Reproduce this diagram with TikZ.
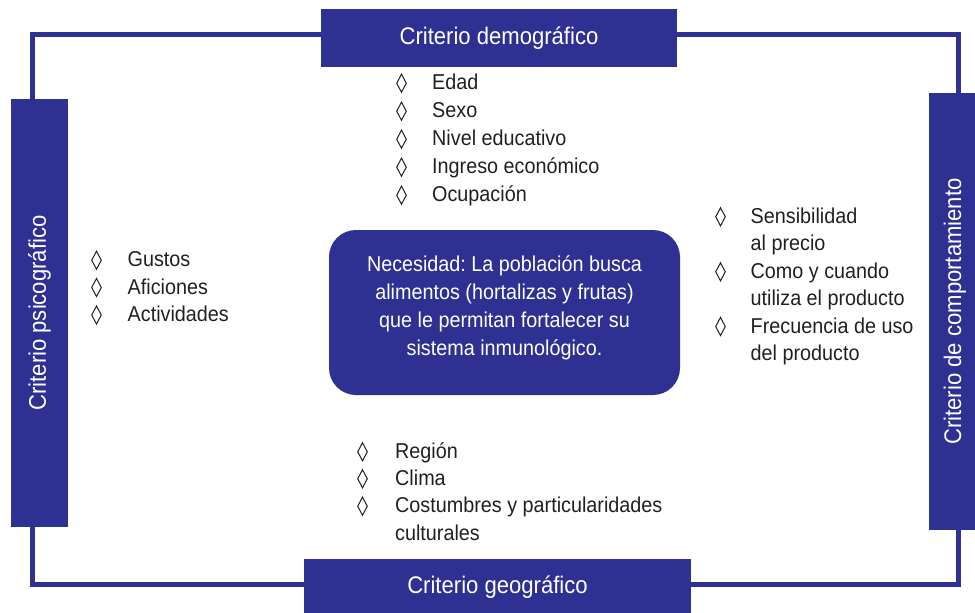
\documentclass[tikz,border=0pt]{standalone}
\usepackage{fontspec}
\usetikzlibrary{shapes.geometric}
\newfontfamily\critf{Liberation Sans}[FakeStretch=0.92]
\definecolor{critblue}{RGB}{46,49,146}
\definecolor{txtgray}{RGB}{35,31,32}
\frenchspacing
\tikzset{
  frame/.style={draw=critblue, line width=5pt},
  crit/.style={fill=critblue, draw=none, text=white, font=\critf\fontsize{24}{28}\selectfont, inner sep=0pt},
  needbox/.style={fill=critblue, draw=none, rounded corners=27pt, text=white, inner sep=0pt},
  needtxt/.style={text=white, font=\critf\fontsize{21.5}{27.6}\selectfont, anchor=base, inner sep=0pt},
  itm/.style={text=txtgray, font=\critf\fontsize{21.5}{27.6}\selectfont, anchor=base west, inner sep=0pt},
  dia/.style={shape=diamond, draw=txtgray, line width=1pt, inner sep=0pt, minimum width=10pt, minimum height=18.5pt}
}
\begin{document}
\begin{tikzpicture}[x=1pt,y=-1pt]
\useasboundingbox (0,0) rectangle (975,613);
% frame
\coordinate (tl) at (32.5,34.5);
\coordinate (br) at (958.5,584.5);
\draw[frame] (tl) rectangle (br);
% criteria boxes
\node[crit, minimum width=356pt, minimum height=58pt] (top) at (499,38) {Criterio demográfico};
\node[crit, minimum width=387pt, minimum height=56pt] (bot) at (497.5,587) {Criterio geográfico};
\node[crit, minimum width=57pt, minimum height=428pt] (left) at (39.5,313) {};
\node[text=white, font=\critf\fontsize{24}{28}\selectfont, rotate=90, inner sep=0pt] (lefttxt) at (left.center) {Criterio psicográfico};
\node[crit, minimum width=52pt, minimum height=437pt] (right) at (955,311.5) {};
\node[text=white, font=\critf\fontsize{24}{28}\selectfont, rotate=90, inner sep=0pt] (righttxt) at (955,311.5) {Criterio de comportamiento};
% central need
\node[needbox, minimum width=351pt, minimum height=165pt] (need) at (504.5,312.5) {};
\node[needtxt] (n1) at (504.5,271.7) {Necesidad: La población busca};
\node[needtxt] (n2) at (504.5,299.5) {alimentos (hortalizas y frutas)};
\node[needtxt] (n3) at (504.5,327.3) {que le permitan fortalecer su};
\node[needtxt] (n4) at (504.5,355) {sistema inmunológico.};
% demographic list
\node[dia] (dd1) at (401.5,83.2) {};
\node[itm] (d1) at (432,89.7) {Edad};
\node[dia] (dd2) at (401.5,111.2) {};
\node[itm] (d2) at (432,117.7) {Sexo};
\node[dia] (dd3) at (401.5,139.2) {};
\node[itm] (d3) at (432,145.7) {Nivel educativo};
\node[dia] (dd4) at (401.5,167.2) {};
\node[itm] (d4) at (432,173.7) {Ingreso económico};
\node[dia] (dd5) at (401.5,195.2) {};
\node[itm] (d5) at (432,201.7) {Ocupación};
% psychographic list
\node[dia] (pd1) at (96.5,260.2) {};
\node[itm] (p1) at (127.5,266.7) {Gustos};
\node[dia] (pd2) at (96.5,287.5) {};
\node[itm] (p2) at (127.5,294) {Aficiones};
\node[dia] (pd3) at (96.5,315) {};
\node[itm] (p3) at (127.5,321.5) {Actividades};
% behavioural list
\node[dia] (bd1) at (720.5,216.8) {};
\node[itm] (b1) at (750.5,223.3) {Sensibilidad};
\node[itm] (b1b) at (750.5,250.8) {al precio};
\node[dia] (bd2) at (720.5,271.8) {};
\node[itm] (b2) at (750.5,278.3) {Como y cuando};
\node[itm] (b2b) at (750.5,305.5) {utiliza el producto};
\node[dia] (bd3) at (720.5,326.5) {};
\node[itm] (b3) at (750.5,333) {Frecuencia de uso};
\node[itm] (b3b) at (750.5,360.5) {del producto};
% geographic list
\node[dia] (gd1) at (362.5,451.8) {};
\node[itm] (g1) at (395,458.3) {Región};
\node[dia] (gd2) at (362.5,478.8) {};
\node[itm] (g2) at (395,485.3) {Clima};
\node[dia] (gd3) at (362.5,506.2) {};
\node[itm] (g3) at (395,512.7) {Costumbres y particularidades};
\node[itm] (g3b) at (395,540) {culturales};
\end{tikzpicture}
\end{document}
